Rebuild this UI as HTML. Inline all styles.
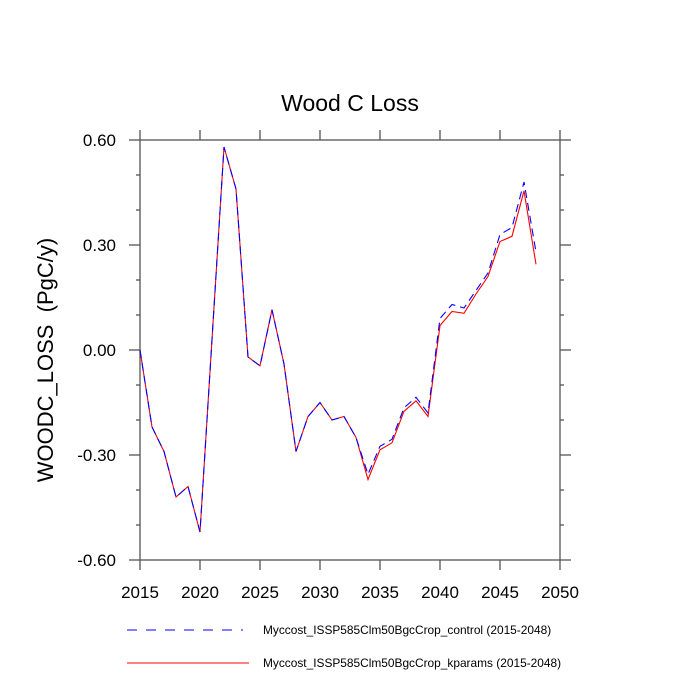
<!DOCTYPE html>
<html><head><style>body{margin:0;background:#fff}svg{display:block}</style></head>
<body>
<svg id="s" width="700" height="700" xmlns="http://www.w3.org/2000/svg" font-family="Liberation Sans, sans-serif">
<text x="350" y="111" font-size="23" text-anchor="middle">Wood C Loss</text>
<text transform="translate(53,360) rotate(-90)" font-size="22" text-anchor="middle">WOODC_LOSS&#160;&#160;(PgC/y)</text>
<g id="ax" stroke="#555" stroke-width="1.3" fill="none"></g>
<g id="lab" font-size="17"></g>
<path id="red" fill="none" stroke="#f00" stroke-width="1.1"/>
<path id="blue" fill="none" stroke="#00f" stroke-width="1.1" stroke-dasharray="8,5"/>
<line x1="127" y1="630" x2="243" y2="630" stroke="#00f" stroke-dasharray="10,9"/>
<line x1="127" y1="663" x2="249" y2="663" stroke="#f00"/>
<text x="263" y="634" font-size="11.9">Myccost_ISSP585Clm50BgcCrop_control (2015-2048)</text>
<text x="263" y="667" font-size="11.9">Myccost_ISSP585Clm50BgcCrop_kparams (2015-2048)</text>
</svg>
<script>
var L=140,R=560,T=140,B=560;
function X(y){return L+(y-2015)*(R-L)/35}
function Y(v){return 350-v*350}
var ax=document.getElementById('ax'),lab=document.getElementById('lab'),h='',t='';
h+='<rect x="140" y="140" width="420" height="420"/>';
for(var y=2015;y<=2050;y++){var x=X(y),m=(y%5==0);var len=m?10:0;
 if(m){h+='<line x1="'+x+'" y1="'+B+'" x2="'+x+'" y2="'+(B+len)+'"/><line x1="'+x+'" y1="'+T+'" x2="'+x+'" y2="'+(T-len)+'"/>';
 t+='<text x="'+x+'" y="598" text-anchor="middle">'+y+'</text>';}}
for(var i=-6;i<=6;i++){var v=i/10,yy=Y(v),m=(i%3==0),len=m?11:4;
 h+='<line x1="'+(L-len)+'" y1="'+yy+'" x2="'+L+'" y2="'+yy+'"/><line x1="'+R+'" y1="'+yy+'" x2="'+(R+len)+'" y2="'+yy+'"/>';
 if(m)t+='<text x="116" y="'+(yy+6)+'" text-anchor="end">'+v.toFixed(2)+'</text>';}
ax.innerHTML=h;lab.innerHTML=t;
var r=[0,-0.22,-0.29,-0.42,-0.39,-0.52,0.03,0.58,0.46,-0.02,-0.045,0.115,-0.04,-0.29,-0.19,-0.15,-0.20,-0.19,-0.25,-0.37,-0.285,-0.265,-0.175,-0.145,-0.19,0.07,0.11,0.105,0.16,0.21,0.31,0.325,0.455,0.245];
var b=r.slice();b[19]=-0.355;b[20]=-0.275;b[21]=-0.255;b[22]=-0.165;b[23]=-0.135;b[24]=-0.18;b[25]=0.09;b[26]=0.13;b[27]=0.12;b[28]=0.17;b[29]=0.22;b[30]=0.33;b[31]=0.35;b[32]=0.48;b[33]=0.28;
function p(a){return a.map(function(v,i){return (i?'L':'M')+X(2015+i).toFixed(1)+','+Y(v).toFixed(1)}).join('')}
document.getElementById('red').setAttribute('d',p(r));
document.getElementById('blue').setAttribute('d',p(b));
</script>
</body></html>
